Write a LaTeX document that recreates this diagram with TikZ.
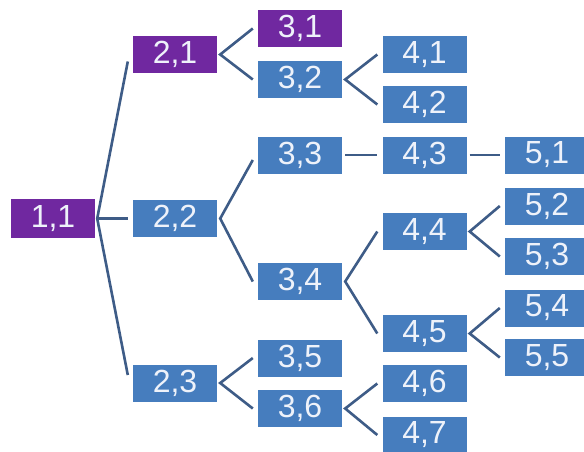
\documentclass[tikz,border=0pt]{standalone}
\usepackage{fontspec}
\setmainfont{Liberation Sans}
\usepackage{xcolor}
\definecolor{cellblue}{RGB}{70,125,190}
\definecolor{cellpurple}{RGB}{112,40,160}
\definecolor{linkblue}{RGB}{62,92,135}
\definecolor{celltext}{RGB}{238,242,250}

\begin{document}
\begin{tikzpicture}[x=1pt,y=-1pt,
        cell/.style={fill=cellblue,text=celltext,minimum width=84pt,minimum height=37pt,inner sep=0pt,
            font=\fontsize{32}{32}\selectfont},
        sel/.style={cell,fill=cellpurple},
        link/.style={draw=linkblue,line width=2.6pt}]
        \useasboundingbox (0,0) rectangle (584,451);
        \clip (0,0) rectangle (584,451);
        \fill[white] (0,0) rectangle (584,451);

        \node[sel,minimum height=39pt] (n11) at (53,218.5) {1,1};

        \node[sel]  (n21) at (175,54.5) {2,1};
        \node[cell] (n22) at (175,218.5) {2,2};
        \node[cell] (n23) at (175,383) {2,3};

        \node[sel]  (n31) at (300,28.5) {3,1};
        \node[cell] (n32) at (300,79.5) {3,2};
        \node[cell] (n33) at (300,155) {3,3};
        \node[cell] (n34) at (300,281.5) {3,4};
        \node[cell] (n35) at (300,358) {3,5};
        \node[cell] (n36) at (300,408.5) {3,6};

        \node[cell] (n41) at (424.5,54.5) {4,1};
        \node[cell] (n42) at (424.5,104.5) {4,2};
        \node[cell] (n43) at (424.5,155) {4,3};
        \node[cell] (n44) at (424.5,231.5) {4,4};
        \node[cell] (n45) at (424.5,333.5) {4,5};
        \node[cell] (n46) at (424.5,383.5) {4,6};
        \node[cell] (n47) at (424.5,435) {4,7};

        \node[cell] (n51) at (547,155) {5,1};
        \node[cell] (n52) at (547,206) {5,2};
        \node[cell] (n53) at (547,256.5) {5,3};
        \node[cell] (n54) at (547,308) {5,4};
        \node[cell] (n55) at (547,357.5) {5,5};

        \draw[link] ([yshift=-7pt,xshift=-5pt]n21.west) -- ([xshift=2pt]n11.east) -- ([yshift=8pt,xshift=-5pt]n23.west);
        \draw[link] ([xshift=2pt]n11.east) -- ([xshift=-5pt]n22.west);

        \draw[link] ([xshift=-5pt]n31.west) -- ([xshift=3pt]n21.east) -- ([xshift=-5pt]n32.west);
        \draw[link] ([yshift=-5pt,xshift=-5pt]n33.west) -- ([xshift=3pt]n22.east) -- ([xshift=-5pt]n34.west);
        \draw[link] ([xshift=-5pt]n35.west) -- ([xshift=3pt]n23.east) -- ([xshift=-5pt]n36.west);

        \draw[link] ([xshift=-5pt]n41.west) -- ([xshift=3pt]n32.east) -- ([xshift=-5pt]n42.west);
        \draw[link] ([xshift=3pt]n33.east) -- ([xshift=-5pt]n43.west);
        \draw[link] ([xshift=-5pt]n44.west) -- ([xshift=3pt]n34.east) -- ([xshift=-5pt]n45.west);
        \draw[link] ([xshift=-5pt]n46.west) -- ([xshift=3pt]n36.east) -- ([xshift=-5pt]n47.west);

        \draw[link] ([xshift=3pt]n43.east) -- ([xshift=-5pt]n51.west);
        \draw[link] ([xshift=-5pt]n52.west) -- ([xshift=3pt]n44.east) -- ([xshift=-5pt]n53.west);
        \draw[link] ([xshift=-5pt]n54.west) -- ([xshift=3pt]n45.east) -- ([xshift=-5pt]n55.west);
    \end{tikzpicture}
\end{document}
